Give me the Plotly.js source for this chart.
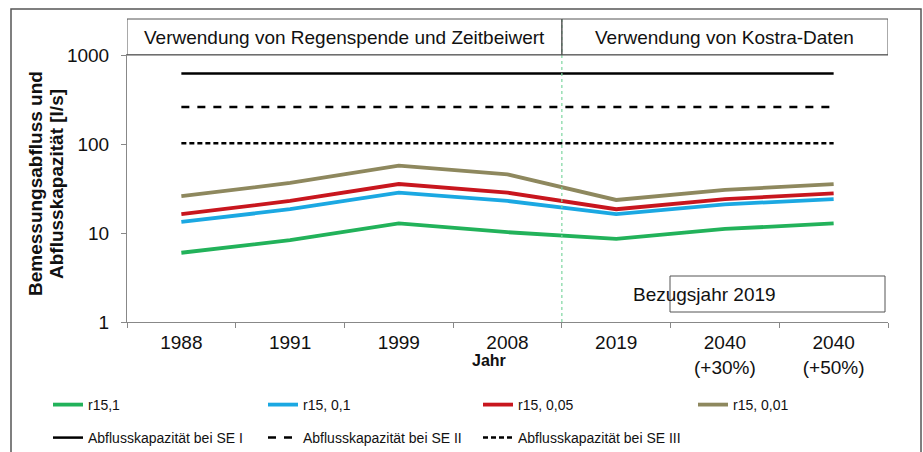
<!DOCTYPE html>
<html><head><meta charset="utf-8">
<script src="https://cdn.plot.ly/plotly-3.0.1.min.js"></script>
<style>html,body{margin:0;padding:0;background:#fff}#chart{width:923px;height:452px}</style>
</head><body><div id="chart"></div>
<script>
const categories = ["1988","1991","1999","2008","2019","2040<br>(+30%)","2040<br>(+50%)"];
const r15_1    = [6.0, 8.3, 12.8, 10.2, 8.6, 11.1, 12.8];
const r15_01   = [13.3, 18.5, 28.4, 22.9, 16.3, 21.0, 24.0];
const r15_005  = [16.3, 22.9, 35.5, 28.4, 18.5, 24.0, 27.9];
const r15_001  = [26.0, 36.5, 57.0, 45.5, 23.5, 30.5, 35.5];
const seI   = [620, 620, 620, 620, 620, 620, 620];
const seII  = [260, 260, 260, 260, 260, 260, 260];
const seIII = [102, 102, 102, 102, 102, 102, 102];
const yTicks = [1, 10, 100, 1000];
const yTickText = ["1", "10", "100", "1000"];

const FONT = "Liberation Sans, Arial, sans-serif";
const W = 923, H = 452, L = 127, R = 35, T = 55, B = 130;
const pw = W - L - R, ph = H - T - B;
const px = x => (x - L) / pw;
const py = y => (H - B - y) / ph;

function tr(name, y, color, width, dash, legend) {
  return {x: categories, y: y, name: name, type: 'scatter', mode: 'lines',
    line: {color: color, width: width, dash: dash || 'solid'}, legend: legend, hoverinfo: 'skip'};
}
const data = [
  tr("r15,1", r15_1, "#22b25a", 3.8, null, 'legend'),
  tr("r15, 0,1", r15_01, "#1ba8e2", 3.8, null, 'legend'),
  tr("r15, 0,05", r15_005, "#c8161e", 3.8, null, 'legend'),
  tr("r15, 0,01", r15_001, "#8e885e", 3.8, null, 'legend'),
  tr("Abflusskapazität bei SE I", seI, "#000", 2.5, null, 'legend2'),
  tr("Abflusskapazität bei SE II", seII, "#000", 2.5, '8px,8px', 'legend2'),
  tr("Abflusskapazität bei SE III", seIII, "#000", 2.5, '5px,3px', 'legend2')
];

const layout = {
  width: W, height: H,
  margin: {l: L, r: R, t: T, b: B, autoexpand: false},
  paper_bgcolor: '#fff', plot_bgcolor: '#fff',
  font: {family: FONT, color: '#111', size: 19},
  showlegend: true,
  xaxis: {type: 'category', categoryorder: 'array', categoryarray: categories,
    range: [-0.5, 6.5], tickson: 'boundaries', ticks: 'outside', ticklen: 5,
    tickcolor: '#888', showline: true, linecolor: '#888', linewidth: 1, mirror: true,
    showgrid: false, zeroline: false, ticklabelstandoff: 3,
    tickfont: {size: 19, family: FONT, color: '#111'}},
  yaxis: {type: 'log', range: [0, 3], tickvals: yTicks, ticktext: yTickText,
    ticks: 'outside', ticklen: 5, tickcolor: '#888', showline: true, linecolor: '#888',
    linewidth: 1, showgrid: false, zeroline: false, ticklabelstandoff: 8,
    tickfont: {size: 19, family: FONT, color: '#111'}},
  legend: {orientation: 'h', x: px(48), xanchor: 'left', y: py(405), yanchor: 'middle',
    entrywidth: 170, entrywidthmode: 'pixels', font: {size: 14, family: FONT, color: '#111'},
    bgcolor: 'rgba(0,0,0,0)', itemwidth: 30, traceorder: 'normal'},
  legend2: {orientation: 'h', x: px(48), xanchor: 'left', y: py(438), yanchor: 'middle',
    entrywidth: 170, entrywidthmode: 'pixels', font: {size: 14, family: FONT, color: '#111'},
    bgcolor: 'rgba(0,0,0,0)', itemwidth: 30, traceorder: 'normal'},
  shapes: [
    {type: 'rect', xref: 'paper', yref: 'paper', x0: px(11), x1: px(921), y0: py(470), y1: py(9),
      line: {color: '#555', width: 1.5}, fillcolor: 'rgba(0,0,0,0)', layer: 'below'},
    {type: 'line', xref: 'x', yref: 'paper', x0: 3.5, x1: 3.5, y0: 0, y1: py(19),
      line: {color: '#7dd6a0', width: 1.2, dash: '3px,3px'}},
    {type: 'rect', xref: 'x', yref: 'paper', x0: -0.5, x1: 3.5, y0: 1, y1: py(19),
      line: {color: '#555', width: 1}, fillcolor: 'rgba(0,0,0,0)'},
    {type: 'rect', xref: 'x', yref: 'paper', x0: 3.5, x1: 6.5, y0: 1, y1: py(19),
      line: {color: '#555', width: 1}, fillcolor: 'rgba(0,0,0,0)'},
    {type: 'rect', xref: 'paper', yref: 'paper', x0: px(670), x1: px(885), y0: py(312), y1: py(276),
      line: {color: '#555', width: 1}, fillcolor: '#fff'}
  ],
  annotations: [
    {xref: 'x', yref: 'paper', x: 1.5, y: py(37), text: "Verwendung von Regenspende und Zeitbeiwert",
      showarrow: false, font: {size: 19, family: FONT, color: '#111'}, yanchor: 'middle'},
    {xref: 'x', yref: 'paper', x: 5, y: py(37), text: "Verwendung von Kostra-Daten",
      showarrow: false, font: {size: 19, family: FONT, color: '#111'}, yanchor: 'middle'},
    {xref: 'paper', yref: 'paper', x: px(777.5), y: py(294), text: "Bezugsjahr 2019",
      showarrow: false, font: {size: 19, family: FONT, color: '#111'}, yanchor: 'middle'},
    {xref: 'paper', yref: 'paper', x: px(489), y: py(360), text: "<b>Jahr</b>",
      showarrow: false, font: {size: 16, family: FONT, color: '#111'}, yanchor: 'middle'},
    {xref: 'paper', yref: 'paper', x: px(35), y: py(184), text: "<b>Bemessungsabfluss und</b>",
      textangle: -90, showarrow: false, font: {size: 19, family: FONT, color: '#111'},
      xanchor: 'center', yanchor: 'middle'},
    {xref: 'paper', yref: 'paper', x: px(56), y: py(184), text: "<b>Abflusskapazität [l/s]</b>",
      textangle: -90, showarrow: false, font: {size: 19, family: FONT, color: '#111'},
      xanchor: 'center', yanchor: 'middle'}
  ]
};
Plotly.newPlot('chart', data, layout, {displayModeBar: false, staticPlot: true});
</script></body></html>
